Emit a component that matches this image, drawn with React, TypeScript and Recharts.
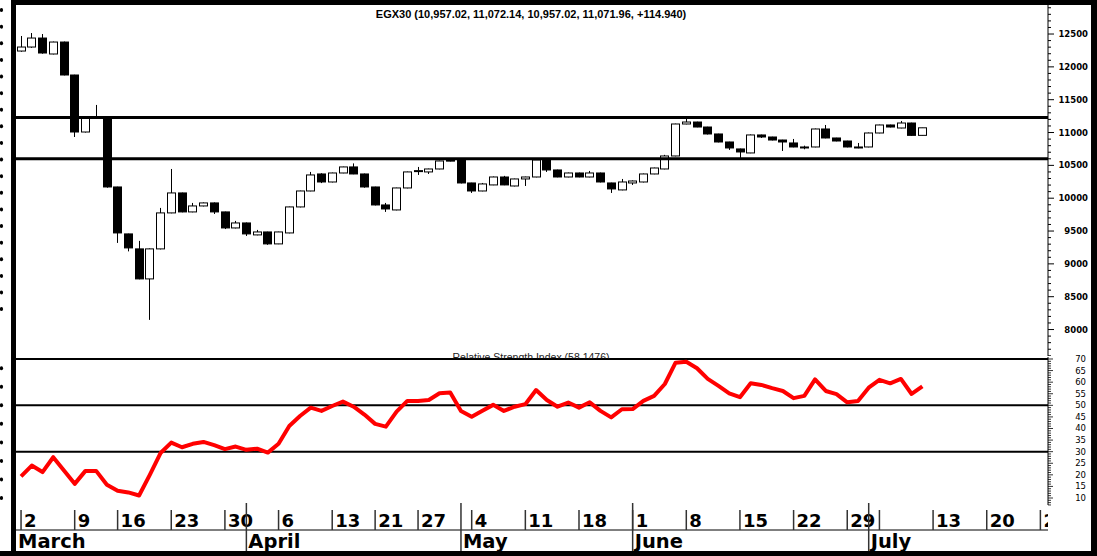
import { Bar, ComposedChart, Line, ReferenceLine, XAxis, YAxis } from "recharts";

// EGX30 daily candles, March -> early July (85 sessions)
const OPEN = [
  12241, 12302, 12439, 12196, 12378, 11876, 11008, 11215, 11221, 10171,
  9456, 9228, 8771, 9228, 9776, 10080, 9791, 9882, 9928, 9791,
  9547, 9623, 9441, 9486, 9304, 9471, 9867, 10110, 10369, 10247,
  10384, 10476, 10369, 10171, 9897, 9821, 10156, 10410, 10400, 10445,
  10580, 10597, 10232, 10110, 10202, 10323, 10186, 10293, 10323, 10597,
  10430, 10323, 10384, 10323, 10384, 10232, 10126, 10232, 10247, 10369,
  10445, 10643, 11130, 11160, 11084, 10978, 10856, 10750, 10689, 10963,
  10932, 10886, 10841, 10780, 10780, 11054, 10917, 10871, 10765, 10780,
  10993, 11115, 11069, 11145, 10957,
];
const HIGH = [
  12470, 12515, 12500, 12385, 12385, 11880, 11225, 11420, 11225, 10175,
  9460, 9350, 9235, 9852, 10445, 10085, 9928, 9935, 9935, 9795,
  9654, 9630, 9517, 9490, 9490, 9872, 10115, 10400, 10380, 10390,
  10480, 10530, 10375, 10175, 9928, 10160, 10405, 10476, 10450, 10572,
  10600, 10600, 10235, 10232, 10330, 10340, 10298, 10328, 10587, 10600,
  10435, 10390, 10390, 10415, 10390, 10236, 10293, 10270, 10375, 10465,
  10660, 11135, 11221, 11165, 11088, 10982, 10860, 10755, 10970, 10968,
  10936, 10890, 10902, 10800, 11060, 11115, 10920, 10875, 10841, 11000,
  11120, 11120, 11176, 11150, 11072.14,
];
const LOW = [
  12230, 12290, 12200, 12190, 11870, 10932, 11000, 11210, 10160, 9319,
  9190, 8765, 8147, 9220, 9770, 9785, 9785, 9875, 9760, 9530,
  9540, 9425, 9435, 9290, 9300, 9465, 9860, 10105, 10230, 10240,
  10380, 10365, 10160, 9890, 9791, 9815, 10150, 10354, 10369, 10440,
  10560, 10225, 10080, 10105, 10198, 10198, 10180, 10186, 10318, 10400,
  10318, 10318, 10318, 10318, 10240, 10080, 10120, 10202, 10240, 10365,
  10440, 10638, 11125, 11080, 10970, 10850, 10735, 10613, 10685, 10917,
  10880, 10719, 10775, 10745, 10775, 10912, 10866, 10774, 10760, 10775,
  10988, 11078, 11064, 10950, 10957.02,
];
const CLOSE = [
  12302, 12439, 12211, 12378, 11876, 11008, 11221, 11230, 10171, 9471,
  9243, 8771, 9228, 9776, 10080, 9791, 9882, 9928, 9791, 9547,
  9623, 9456, 9486, 9304, 9486, 9867, 10110, 10354, 10247, 10384,
  10476, 10369, 10171, 9897, 9836, 10156, 10400, 10420, 10445, 10567,
  10568, 10232, 10110, 10217, 10323, 10202, 10293, 10323, 10582, 10430,
  10323, 10384, 10323, 10384, 10247, 10141, 10247, 10262, 10369, 10460,
  10643, 11130, 11160, 11084, 10978, 10856, 10765, 10704, 10963, 10932,
  10886, 10856, 10780, 10765, 11054, 10917, 10871, 10780, 10780, 10993,
  11115, 11084, 11145, 10957.02, 11071.96,
];
const RSI = [
  19.3, 24.0, 21.2, 27.6, 21.9, 16.1, 21.7, 21.7, 15.7, 13.1,
  12.4, 11.1, 20.0, 29.4, 33.9, 31.9, 33.4, 34.2, 32.8, 31.1,
  32.2, 30.8, 31.3, 29.6, 33.4, 41.1, 45.4, 49.0, 47.6, 49.7,
  51.6, 49.4, 46.0, 42.0, 40.8, 47.3, 51.9, 51.9, 52.3, 55.2,
  55.5, 47.6, 45.1, 47.7, 50.2, 47.6, 49.4, 50.5, 56.6, 52.3,
  49.4, 51.2, 49.0, 51.3, 47.6, 44.8, 48.3, 48.4, 51.9, 54.1,
  59.2, 68.4, 68.8, 66.0, 61.4, 58.4, 55.2, 53.5, 59.5, 58.8,
  57.4, 56.2, 53.1, 54.1, 61.2, 56.2, 54.8, 51.3, 51.9, 57.6,
  61.0, 59.5, 61.4, 54.9, 58.1476,
];

// date axis: session index of each weekly tick, and its label
const DAY_TICKS = [0, 5, 9, 14, 19, 24, 29, 33, 37, 42, 47, 52, 57, 62, 67, 72, 77, 80, 85, 90, 95];
const DAY_LABELS = ["2", "9", "16", "23", "30", "6", "13", "21", "27", "4", "11", "18", "1", "8", "15", "22", "29", "", "13", "20", "27"];
const X_MIN = -0.47;
const X_MAX = 95.71;
const MONTH_TICKS = [X_MIN, 21, 41, 57, 79];
const MONTH_LABELS = ["March", "April", "May", "June", "July"];

const PRICE_LABELS = [8000, 8500, 9000, 9500, 10000, 10500, 11000, 11500, 12000, 12500];
const RSI_LABELS = [10, 15, 20, 25, 30, 35, 40, 45, 50, 55, 60, 65, 70];
const PRICE_LEVELS = [11230, 10600];
const RSI_LEVELS = [70, 50, 30];

const PRICE_DOMAIN: [number, number] = [7597, 12942];
const RSI_DOMAIN: [number, number] = [6.98, 70.86];

const PRICE_TICKS: number[] = [];
for (let v = 7600; v <= 12900; v += 100) PRICE_TICKS.push(v);
const RSI_TICKS: number[] = [];
for (let v = 7; v <= 70; v += 1) RSI_TICKS.push(v);
// clipped-off left scale remnants
const PRICE_DOT_TICKS: number[] = [];
for (let v = 12865; v >= 8300; v -= 253) PRICE_DOT_TICKS.push(v);
const RSI_DOT_TICKS = [10, 18, 26, 34, 42, 50, 58, 66];

const rows = CLOSE.map((c, i) => ({
  i,
  o: OPEN[i],
  h: HIGH[i],
  l: LOW[i],
  c,
  range: [LOW[i], HIGH[i]],
  rsi: RSI[i],
}));

const BOLD = "DejaVu Sans";
const ARIAL = "Liberation Sans, Arial, sans-serif";

function Candle(props: any) {
  const { x, y, width, height, payload } = props;
  if (payload == null || height == null) return null;
  const { o, c, h, l } = payload;
  const top = Math.min(y, y + height);
  const hh = Math.abs(height);
  if (!(h > l)) return null;
  const py = (v: number) => top + ((h - v) / (h - l)) * hh;
  const cx = Math.floor(x + width / 2) + 0.5;
  const bTop = py(Math.max(o, c));
  const bBot = py(Math.min(o, c));
  const up = c >= o;
  return (
    <g>
      <line x1={cx} x2={cx} y1={top} y2={top + hh} stroke="#000" strokeWidth={1} />
      <rect
        x={cx - 4}
        y={bTop}
        width={8}
        height={Math.max(bBot - bTop, 1)}
        fill={up ? "#fff" : "#000"}
        stroke="#000"
        strokeWidth={1}
      />
    </g>
  );
}

function PriceTick(props: any) {
  const { x, y, payload } = props;
  const v = payload.value;
  const major = PRICE_LABELS.includes(v);
  return (
    <g>
      <line x1={x} x2={x + (major ? 6 : 3)} y1={y} y2={y} stroke="#000" strokeWidth={1} />
      {major && (
        <text x={x + 40} y={y} textAnchor="end" dominantBaseline="central" fontFamily={BOLD} fontWeight="bold" fontSize={8.5} fill="#000">
          {v}
        </text>
      )}
    </g>
  );
}

function RsiTick(props: any) {
  const { x, y, payload } = props;
  const v = payload.value;
  const major = v % 5 === 0;
  return (
    <g>
      <line x1={x} x2={x + (major ? 5 : 3)} y1={y} y2={y} stroke="#000" strokeWidth={0.8} />
      {RSI_LABELS.includes(v) && (
        <text x={x + 38} y={y} textAnchor="end" dominantBaseline="central" fontFamily={BOLD} fontSize={8.5} fill="#000">
          {v}
        </text>
      )}
    </g>
  );
}

function DotTick(props: any) {
  const { x, y } = props;
  return <ellipse cx={x - 14.5} cy={y} rx={1.6} ry={2} fill="#000" />;
}

function DayTick(props: any) {
  const { x, y, payload } = props;
  const k = DAY_TICKS.indexOf(payload.value);
  const label = k >= 0 ? DAY_LABELS[k] : "";
  return (
    <g>
      <line x1={x} x2={x} y1={y + 5} y2={y + 25} stroke="#333" strokeWidth={1.5} />
      {label && (
        <text x={x + 3} y={y + 22} clipPath="url(#dayLabelClip)" fontFamily={BOLD} fontWeight="bold" fontSize={18} fill="#000">
          {label}
        </text>
      )}
    </g>
  );
}

function MonthTick(props: any) {
  const { x, y, payload } = props;
  const k = MONTH_TICKS.indexOf(payload.value);
  return (
    <g>
      {k > 0 && <line x1={x} x2={x} y1={y - 27} y2={y + 22} stroke="#333" strokeWidth={1.5} />}
      <text x={x + 2} y={y + 18} fontFamily={BOLD} fontWeight="bold" fontSize={19.5} fill="#000">
        {MONTH_LABELS[k]}
      </text>
    </g>
  );
}

export default function App() {
  return (
    <div style={{ position: "fixed", left: 0, top: 0, width: 1097, height: 556, background: "#fff", overflow: "hidden" }}>
      <div style={{ position: "absolute", left: 0, top: 0 }}>
        <ComposedChart width={1097} height={356} data={rows} margin={{ top: 5, right: 0, left: 0, bottom: 0 }}>
          <XAxis dataKey="i" type="number" domain={[X_MIN, X_MAX]} allowDataOverflow hide />
          <YAxis yAxisId="dots" orientation="left" width={16} type="number" domain={PRICE_DOMAIN} allowDataOverflow
            ticks={PRICE_DOT_TICKS} interval={0} axisLine={false} tickLine={false} tickSize={0} tickMargin={0} tick={<DotTick />} />
          <YAxis yAxisId="price" orientation="right" width={49} type="number" domain={PRICE_DOMAIN} allowDataOverflow
            ticks={PRICE_TICKS} interval={0} axisLine={{ stroke: "#000" }} tickLine={false} tickSize={0} tickMargin={0} tick={<PriceTick />} />
          {PRICE_LEVELS.map((v) => (
            <ReferenceLine key={v} yAxisId="price" y={v} stroke="#000" strokeWidth={3} />
          ))}
          <Bar yAxisId="price" dataKey="range" barSize={9} shape={<Candle />} isAnimationActive={false} />
        </ComposedChart>
      </div>
      <div style={{ position: "absolute", left: 0, top: 340 }}>
        <ComposedChart width={1097} height={216} data={rows} margin={{ top: 17, right: 0, left: 0, bottom: 6 }}>
          <XAxis xAxisId="day" dataKey="i" type="number" domain={[X_MIN, X_MAX]} allowDataOverflow height={25}
            ticks={DAY_TICKS} interval={0} axisLine={false} tickLine={false} tickSize={0} tickMargin={0} tick={<DayTick />} />
          <XAxis xAxisId="month" dataKey="i" type="number" domain={[X_MIN, X_MAX]} allowDataOverflow height={20}
            ticks={MONTH_TICKS} interval={0} axisLine={{ stroke: "#000" }} tickLine={false} tickSize={0} tickMargin={0} tick={<MonthTick />} />
          <YAxis yAxisId="dots" orientation="left" width={16} type="number" domain={RSI_DOMAIN} allowDataOverflow
            ticks={RSI_DOT_TICKS} interval={0} axisLine={false} tickLine={false} tickSize={0} tickMargin={0} tick={<DotTick />} />
          <YAxis yAxisId="rsi" orientation="right" width={49} type="number" domain={RSI_DOMAIN} allowDataOverflow
            ticks={RSI_TICKS} interval={0} axisLine={{ stroke: "#000" }} tickLine={false} tickSize={0} tickMargin={0} tick={<RsiTick />} />
          {RSI_LEVELS.map((v) => (
            <ReferenceLine key={v} xAxisId="day" yAxisId="rsi" y={v} stroke="#000" strokeWidth={2} />
          ))}
          <Line xAxisId="day" yAxisId="rsi" dataKey="rsi" type="linear" stroke="#ff0000" strokeWidth={4}
            strokeLinejoin="round" dot={false} isAnimationActive={false} />
        </ComposedChart>
      </div>
      <svg width={1097} height={556} style={{ position: "absolute", left: 0, top: 0, pointerEvents: "none" }}>
        <defs>
          <clipPath id="dayLabelClip">
            <rect x={0} y={0} width={1048} height={556} />
          </clipPath>
          <clipPath id="rsiTitleClip">
            <rect x={0} y={340} width={1097} height={18.5} />
          </clipPath>
        </defs>
        <text x={531} y={18} textAnchor="middle" fontFamily={ARIAL} fontWeight="bold" fontSize={11} fill="#000">
          EGX30 (10,957.02, 11,072.14, 10,957.02, 11,071.96, +114.940)
        </text>
        <text x={531} y={361} textAnchor="middle" fontFamily={ARIAL} fontSize={10.5} fill="#222" clipPath="url(#rsiTitleClip)">
          Relative Strength Index (58.1476)
        </text>
        <rect x={11} y={0} width={5} height={556} fill="#000" />
        <rect x={11} y={0} width={1086} height={5} fill="#000" />
        <rect x={1091} y={0} width={6} height={556} fill="#000" />
        <rect x={0} y={551} width={1097} height={5} fill="#000" />
      </svg>
    </div>
  );
}
